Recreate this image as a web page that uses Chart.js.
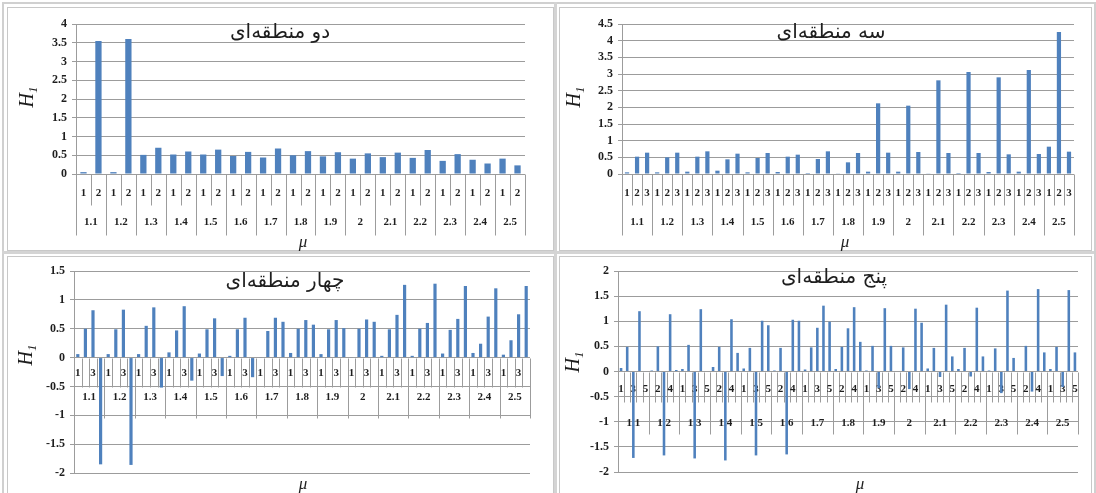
<!DOCTYPE html>
<html>
<head>
<meta charset="utf-8">
<script src="https://cdn.jsdelivr.net/npm/chart.js@4/dist/chart.umd.min.js"></script>
<style>
  body { margin: 0; background: #fff; }
  #wrap { position: relative; width: 1096px; height: 493px; overflow: hidden; background: #fff; }
  .box { position: absolute; border: 1px solid #c8c8c8; background: #fff; }
  canvas { position: absolute; }
</style>
</head>
<body>
<div id="wrap">
  <div class="box" style="left:2px;top:2px;width:1090px;height:495px;border-width:2px;border-color:#d0d0d0;"></div>
  <div class="box" style="left:7px;top:7px;width:545px;height:242px"></div>
  <div class="box" style="left:559px;top:7px;width:531px;height:242px"></div>
  <div class="box" style="left:7px;top:256px;width:545px;height:250px"></div>
  <div class="box" style="left:559px;top:256px;width:531px;height:250px"></div>
  <div style="position:absolute;left:554px;top:2px;width:3px;height:493px;background:#d4d4d4"></div>
  <div style="position:absolute;left:2px;top:251px;width:1092px;height:3px;background:#d4d4d4"></div>
  <canvas id="c1" width="556" height="253" style="left:0;top:0"></canvas>
  <canvas id="c2" width="540" height="253" style="left:556px;top:0"></canvas>
  <canvas id="c3" width="556" height="240" style="left:0;top:253px"></canvas>
  <canvas id="c4" width="540" height="240" style="left:556px;top:253px"></canvas>
</div>
<script>
// μ values shared by all four panels
const muLabels = ['1.1','1.2','1.3','1.4','1.5','1.6','1.7','1.8','1.9','2','2.1','2.2','2.3','2.4','2.5'];

// H1 per zone, one row per μ
const twoZoneH1 = [
  [0.05, 3.55], [0.05, 3.60], [0.51, 0.70], [0.52, 0.60], [0.52, 0.65],
  [0.48, 0.59], [0.44, 0.68], [0.50, 0.61], [0.47, 0.58], [0.41, 0.55],
  [0.45, 0.57], [0.43, 0.64], [0.35, 0.53], [0.38, 0.28], [0.41, 0.23]
];
const threeZoneH1 = [
  [0.05, 0.52, 0.64], [0.05, 0.50, 0.64], [0.07, 0.52, 0.68], [0.10, 0.44, 0.61], [0.05, 0.48, 0.63],
  [0.06, 0.52, 0.58], [0.03, 0.45, 0.68], [0.01, 0.35, 0.63], [0.07, 2.12, 0.64], [0.07, 2.05, 0.66],
  [0.02, 2.81, 0.63], [0.03, 3.06, 0.63], [0.06, 2.90, 0.59], [0.07, 3.12, 0.60], [0.82, 4.26, 0.67]
];
const fourZoneH1 = [
  [0.06, 0.50, 0.82, -1.85], [0.06, 0.49, 0.83, -1.86], [0.06, 0.55, 0.87, -0.52], [0.09, 0.47, 0.89, -0.40],
  [0.07, 0.49, 0.68, -0.32], [0.03, 0.49, 0.69, -0.34], [0.01, 0.46, 0.69, 0.62], [0.08, 0.50, 0.65, 0.57],
  [0.06, 0.49, 0.65, 0.51], [0.01, 0.50, 0.66, 0.62], [0.03, 0.49, 0.74, 1.26], [0.03, 0.50, 0.60, 1.28],
  [0.07, 0.48, 0.67, 1.24], [0.08, 0.24, 0.71, 1.20], [0.05, 0.30, 0.75, 1.24]
];
const fiveZoneH1 = [
  [0.07, 0.49, -1.72, 1.20, 0.00], [0.02, 0.50, -1.67, 1.14, 0.03], [0.05, 0.53, -1.73, 1.24, 0.00],
  [0.09, 0.49, -1.77, 1.04, 0.37], [0.06, 0.47, -1.67, 1.01, 0.92], [0.02, 0.47, -1.65, 1.03, 1.01],
  [0.04, 0.48, 0.87, 1.31, 0.99], [0.05, 0.49, 0.86, 1.28, 0.59], [0.02, 0.51, -0.33, 1.26, 0.51],
  [0.00, 0.48, -0.35, 1.25, 0.97], [0.06, 0.47, -0.11, 1.33, 0.30], [0.05, 0.47, -0.10, 1.27, 0.30],
  [0.02, 0.46, -0.43, 1.61, 0.27], [0.00, 0.51, -0.40, 1.64, 0.38], [0.05, 0.49, -0.31, 1.62, 0.38]
];

const panelTitles = ['دو منطقه‌ای', 'سه منطقه‌ای', 'چهار منطقه‌ای', 'پنج منطقه‌ای'];

const BAR = '#4f81bd';
const GRID = '#9c9c9c';
const INK = '#1e1e1e';
const SERIF = "'Liberation Serif', 'Times New Roman', serif";

// Two-row category axis (zone index, then μ), drawn under the bars
function groupedAxis(o) {
  return {
    id: 'groupedAxis',
    beforeDatasetsDraw(chart) {
      const { ctx } = chart;
      const xs = chart.scales.x, ys = chart.scales.y;
      const labels = chart.data.labels;
      const n = labels.length;
      const y0 = Math.round(ys.getPixelForValue(0)) + 0.5;
      const half = (xs.getPixelForValue(1) - xs.getPixelForValue(0)) / 2;
      ctx.save();
      ctx.strokeStyle = GRID;
      ctx.lineWidth = 1;
      for (let k = 0; k <= n; k++) {
        const edge = k < n ? xs.getPixelForValue(k) - half : xs.getPixelForValue(n - 1) + half;
        const x = Math.round(edge) + 0.5;
        const len = (k % o.per === 0) ? o.groupLen : o.subLen;
        ctx.beginPath();
        ctx.moveTo(x, y0);
        ctx.lineTo(x, y0 + len);
        ctx.stroke();
      }
      ctx.fillStyle = INK;
      ctx.textAlign = 'center';
      ctx.textBaseline = 'middle';
      ctx.font = o.subFont;
      for (let k = 0; k < n; k += o.step) {
        ctx.fillText(labels[k], xs.getPixelForValue(k), y0 + o.row1);
      }
      ctx.font = o.groupFont;
      muLabels.forEach((mu, g) => {
        const a = xs.getPixelForValue(g * o.per) - half;
        const b = xs.getPixelForValue(g * o.per + o.per - 1) + half;
        ctx.fillText(mu, (a + b) / 2, y0 + o.row2);
      });
      ctx.restore();
    }
  };
}

// Panel title, H1 axis title and μ axis title
function panelText(o) {
  return {
    id: 'panelText',
    afterDraw(chart) {
      const { ctx } = chart;
      ctx.save();
      ctx.fillStyle = INK;
      ctx.textAlign = 'center';
      ctx.textBaseline = 'middle';
      ctx.direction = 'rtl';
      ctx.font = "20px 'DejaVu Sans'";
      ctx.fillText(o.title, o.titleX, o.titleY);
      ctx.direction = 'ltr';

      ctx.translate(o.hX, o.hY);
      ctx.rotate(-Math.PI / 2);
      ctx.textAlign = 'left';
      ctx.textBaseline = 'alphabetic';
      ctx.font = 'italic 20px ' + SERIF;
      const wH = ctx.measureText('H').width;
      ctx.font = 'italic 13px ' + SERIF;
      const w1 = ctx.measureText('1').width;
      const start = -(wH + w1) / 2;
      ctx.font = 'italic 20px ' + SERIF;
      ctx.fillText('H', start, 7);
      ctx.font = 'italic 13px ' + SERIF;
      ctx.fillText('1', start + wH, 11);
      ctx.setTransform(1, 0, 0, 1, 0, 0);

      ctx.textAlign = 'center';
      ctx.textBaseline = 'middle';
      ctx.font = 'italic 17px ' + SERIF;
      ctx.fillText('μ', o.muX, o.muY);
      ctx.restore();
    }
  };
}

function buildPanel(id, rows, p) {
  const per = rows[0].length;
  const labels = [];
  rows.forEach(r => r.forEach((v, i) => labels.push(String(i + 1))));
  const values = rows.flat();
  new Chart(document.getElementById(id), {
    type: 'bar',
    data: {
      labels,
      datasets: [{
        data: values,
        backgroundColor: BAR,
        borderWidth: 0,
        barPercentage: 0.42,
        categoryPercentage: 1
      }]
    },
    options: {
      responsive: false,
      animation: false,
      devicePixelRatio: 1,
      layout: { padding: p.padding },
      plugins: { legend: { display: false }, tooltip: { enabled: false } },
      scales: {
        x: { display: false, offset: true },
        y: {
          min: p.min, max: p.max,
          afterFit(scale) { scale.width = p.yWidth; },
          ticks: {
            stepSize: 0.5,
            autoSkip: false,
            color: INK,
            padding: 5,
            font: { family: SERIF, size: 12, weight: 'bold' },
            callback: v => String(Math.round(v * 100) / 100)
          },
          grid: { color: GRID, lineWidth: 1, tickLength: 4 },
          border: { display: true, color: GRID }
        }
      }
    },
    plugins: [
      groupedAxis(Object.assign({ per, subFont: 'bold 11px ' + SERIF, groupFont: 'bold 11px ' + SERIF }, p.axis)),
      panelText(p.text)
    ]
  });
}

buildPanel('c1', twoZoneH1, {
  min: 0, max: 4, yWidth: 76,
  padding: { left: 0, top: 24, right: 31, bottom: 79 },
  axis: { step: 1, subLen: 31, groupLen: 61, row1: 19, row2: 48 },
  text: { title: panelTitles[0], titleX: 280, titleY: 33, hX: 26, hY: 97, muX: 303, muY: 243 }
});
buildPanel('c2', threeZoneH1, {
  min: 0, max: 4.5, yWidth: 66,
  padding: { left: 0, top: 24, right: 22, bottom: 79 },
  axis: { step: 1, subLen: 31, groupLen: 61, row1: 19, row2: 48 },
  text: { title: panelTitles[1], titleX: 275, titleY: 33, hX: 17, hY: 97, muX: 289, muY: 243 }
});
buildPanel('c3', fourZoneH1, {
  min: -2, max: 1.5, yWidth: 74,
  padding: { left: 0, top: 18, right: 26, bottom: 20 },
  axis: { step: 2, subLen: 29, groupLen: 60, row1: 15, row2: 39 },
  text: { title: panelTitles[2], titleX: 285, titleY: 29, hX: 25, hY: 102, muX: 303, muY: 232 }
});
buildPanel('c4', fiveZoneH1, {
  min: -2, max: 2, yWidth: 62,
  padding: { left: 0, top: 18, right: 18, bottom: 21 },
  axis: { step: 2, subLen: 30, groupLen: 62, row1: 17, row2: 51 },
  text: { title: panelTitles[3], titleX: 278, titleY: 25, hX: 16, hY: 109, muX: 304, muY: 232 }
});
</script>
</body>
</html>
